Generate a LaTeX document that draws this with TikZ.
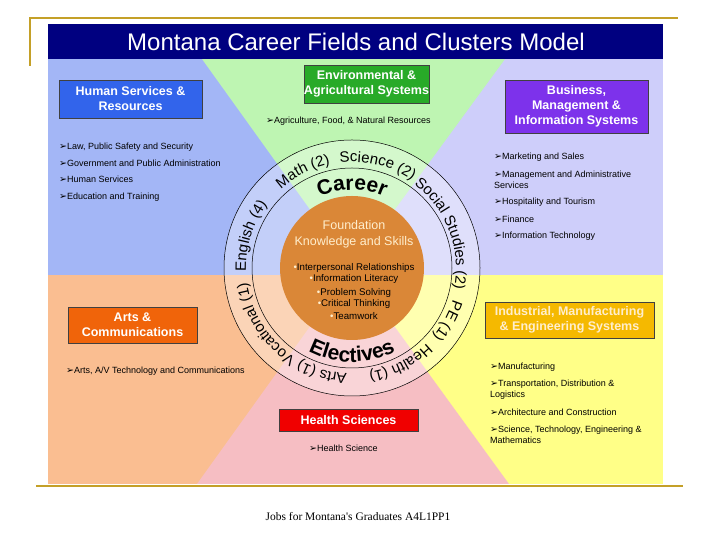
\documentclass[tikz,border=0pt]{standalone}
\usepackage{fontspec}
\setmainfont{Liberation Sans}
\newfontfamily\arrowfont{DejaVu Sans}
\newfontfamily\capfont{Liberation Serif}
\usetikzlibrary{decorations.text}

\definecolor{goldline}{RGB}{196,160,40}
\definecolor{titlenavy}{RGB}{0,0,128}
\definecolor{blueq}{RGB}{163,182,246}
\definecolor{greenq}{RGB}{190,245,178}
\definecolor{lavq}{RGB}{206,206,250}
\definecolor{peachq}{RGB}{250,190,145}
\definecolor{yellowq}{RGB}{255,255,135}
\definecolor{pinkq}{RGB}{246,190,195}
\definecolor{discorange}{RGB}{218,135,55}
\definecolor{cream}{RGB}{255,238,205}
\definecolor{hsrblue}{RGB}{50,100,235}
\definecolor{easgreen}{RGB}{40,170,40}
\definecolor{bmispurple}{RGB}{125,50,235}
\definecolor{artsorange}{RGB}{240,100,10}
\definecolor{imesgold}{RGB}{245,185,0}
\definecolor{hsred}{RGB}{240,0,0}

\newcommand\arw{{\arrowfont\fontsize{9.5}{9.5}\selectfont ➢}}

\begin{document}
\begin{tikzpicture}[x=1pt,y=1pt,
  box/.style={draw=black!75, line width=0.6pt, text=white, align=center, inner sep=0pt,
    font=\bfseries\fontsize{12.5}{15}\selectfont},
  item/.style={anchor=west, align=left, inner sep=0pt, font=\fontsize{9}{11}\selectfont},
  dot/.style={anchor=center, inner sep=0pt, font=\fontsize{9.7}{12}\selectfont}]

\useasboundingbox (0,0) rectangle (720,540);
\coordinate (O) at (352,272);

% gold frame lines
  \draw[goldline,line width=2.2pt] (30,474) -- (30,522) -- (678,522);
  \draw[goldline,line width=2.2pt] (36,54) -- (683,54);

% quadrants
  \fill[peachq]  (48,56) rectangle (356,266);
  \fill[yellowq] (350,56) rectangle (663,266);
  \fill[blueq]   (48,265) rectangle (356,481);
  \fill[lavq]    (350,265) rectangle (663,481);
  \fill[greenq]  (202,481) -- (505,481) -- (O) -- cycle;
  \fill[pinkq]   (197,56) -- (509,56) -- (O) -- cycle;

% title bar
  \fill[titlenavy] (48,481) rectangle (663,516);
  \node[text=white, font=\fontsize{24}{26}\selectfont] (title) at (356,498) {Montana Career Fields and Clusters Model};

% circles
  \fill[white,opacity=0.35] (O) circle (128);
  \draw[line width=0.5pt] (O) circle (128);
  \draw[line width=0.5pt] (O) circle (100);
  \fill[discorange] (O) circle (72);

% subjects on the outer ring
  \path[decorate,decoration={text along path,text align=center,text={|\fontsize{15}{15}\selectfont|English (4)}}]
    ([shift={(O)}]222.5:106) arc[start angle=222.5,end angle=102.5,radius=106];
  \path[decorate,decoration={text along path,text align=center,text={|\fontsize{15}{15}\selectfont|Math (2)}}]
    ([shift={(O)}]177:106) arc[start angle=177,end angle=57,radius=106];
  \path[decorate,decoration={text along path,text align=center,text={|\fontsize{15}{15}\selectfont|Science (2)}}]
    ([shift={(O)}]136:106) arc[start angle=136,end angle=16,radius=106];
  \path[decorate,decoration={text along path,text align=center,text={|\fontsize{15}{15}\selectfont|Social Studies (2)}}]
    ([shift={(O)}]81:104) arc[start angle=81,end angle=-39,radius=104];
  \path[decorate,decoration={text along path,text align=center,text={|\fontsize{15}{15}\selectfont|PE (1)}}]
    ([shift={(O)}]31:106) arc[start angle=31,end angle=-89,radius=106];
  \path[decorate,decoration={text along path,text align=center,text={|\fontsize{15}{15}\selectfont|Health (1)}}]
    ([shift={(O)}]-3:106) arc[start angle=-3,end angle=-123,radius=106];
  \path[decorate,decoration={text along path,text align=center,text={|\fontsize{15}{15}\selectfont|Arts (1)}}]
    ([shift={(O)}]-46:106) arc[start angle=-46,end angle=-166,radius=106];
  \path[decorate,decoration={text along path,text align=center,text={|\fontsize{15}{15}\selectfont|Vocational (1)}}]
    ([shift={(O)}]-87:106) arc[start angle=-87,end angle=-207,radius=106];

% inner ring
  \path[decorate,decoration={text along path,text align=center,text={|\bfseries\fontsize{21}{21}\selectfont|Career}}]
    ([shift={(O)}]150:78) arc[start angle=150,end angle=30,radius=78];
  \path[decorate,decoration={text along path,text align=center,text={|\bfseries\fontsize{21}{21}\selectfont|Electives}}]
    ([shift={(O)}]-150:94) arc[start angle=-150,end angle=-30,radius=94];

% foundation disc
  \node[text=cream, align=center, font=\fontsize{12.5}{16}\selectfont] (fks) at (354,306) {Foundation\\Knowledge and Skills};
  \node[dot] (fks1) at (354,272) {\textcolor{cream}{•}Interpersonal Relationships};
  \node[dot] (fks2) at (354,261) {\textcolor{cream}{•}Information Literacy};
  \node[dot] (fks3) at (354,247) {\textcolor{cream}{•}Problem Solving};
  \node[dot] (fks4) at (354,236) {\textcolor{cream}{•}Critical Thinking};
  \node[dot] (fks5) at (354,224) {\textcolor{cream}{•}Teamwork};

% cluster boxes
  \node[box, fill=hsrblue,     minimum width=143, minimum height=38] (hsr)  at (130.5,441)   {Human Services \&\\Resources};
  \node[box, fill=easgreen,    minimum width=123, minimum height=38] (eas)  at (366.5,456)   {Environmental \&\\Agricultural Systems};
  \node[box, fill=bmispurple,  minimum width=143, minimum height=53] (bmis) at (576.5,433.5) {Business,\\Management \&\\Information Systems};
  \node[box, fill=artsorange,  minimum width=129, minimum height=36] (arts) at (132.5,215)   {Arts \&\\Communications};
  \node[box, fill=imesgold, text=cream, minimum width=169, minimum height=36] (imes) at (569.5,220) {Industrial, Manufacturing\\\& Engineering Systems};
  \node[box, fill=hsred,       minimum width=139, minimum height=22] (hs)   at (348.5,120)   {Health Sciences};

% pathway lists
  \node[item] (hsr1) at (59,393) {\arw Law, Public Safety and Security};
  \node[item] (hsr2) at (59,377) {\arw Government and Public Administration};
  \node[item] (hsr3) at (59,361) {\arw Human Services};
  \node[item] (hsr4) at (59,343) {\arw Education and Training};

  \node[item] (eas1) at (266,419) {\arw Agriculture, Food, \& Natural Resources};

  \node[item] (bmis1) at (494,383)   {\arw Marketing and Sales};
  \node[item] (bmis2) at (494,360.5) {\arw Management and Administrative\\Services};
  \node[item] (bmis3) at (494,338)   {\arw Hospitality and Tourism};
  \node[item] (bmis4) at (494,321)   {\arw Finance};
  \node[item] (bmis5) at (494,304)   {\arw Information Technology};

  \node[item] (arts1) at (66,169) {\arw Arts, A/V Technology and Communications};

  \node[item] (imes1) at (490,173) {\arw Manufacturing};
  \node[item] (imes2) at (490,150) {\arw Transportation, Distribution \&\\Logistics};
  \node[item] (imes3) at (490,128) {\arw Architecture and Construction};
  \node[item] (imes4) at (490,105) {\arw Science, Technology, Engineering \&\\Mathematics};

  \node[item] (hs1) at (309,92) {\arw Health Science};

% caption
  \node[font=\capfont\fontsize{11.5}{13}\selectfont] (caption) at (358,23) {Jobs for Montana's Graduates A4L1PP1};

\end{tikzpicture}
\end{document}
